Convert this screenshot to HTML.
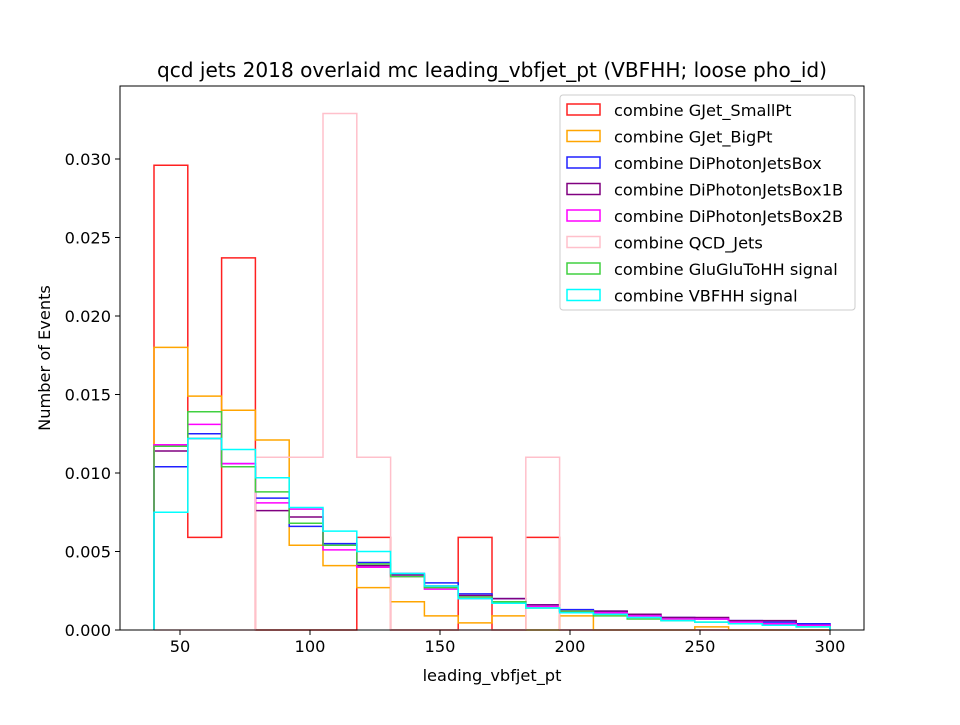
<!DOCTYPE html>
<html><head><meta charset="utf-8"><style>
body{margin:0;background:#fff}
svg text{font-family:"DejaVu Sans","Liberation Sans",sans-serif;fill:#000}
</style></head><body>
<svg id="chart" width="960" height="720" xmlns="http://www.w3.org/2000/svg">
<rect width="960" height="720" fill="#fff"/>
<text x="492" y="77" font-size="20.1" text-anchor="middle">qcd jets 2018 overlaid mc leading_vbfjet_pt (VBFHH; loose pho_id)</text>
<g id="plot"></g>
<rect x="120" y="86" width="744" height="544" fill="none" stroke="#000" stroke-width="1"/>
<g id="axes"></g>
<text x="492" y="681" font-size="16.2" text-anchor="middle">leading_vbfjet_pt</text>
<text transform="translate(50,358) rotate(-90)" font-size="16.2" text-anchor="middle">Number of Events</text>
<g id="legend"></g>
</svg>
<script>
const binEdges=[40,53,66,79,92,105,118,131,144,157,170,183,196,209,222,235,248,261,274,287,300];
const seriesNames=["combine GJet_SmallPt","combine GJet_BigPt","combine DiPhotonJetsBox","combine DiPhotonJetsBox1B","combine DiPhotonJetsBox2B","combine QCD_Jets","combine GluGluToHH signal","combine VBFHH signal"];
const seriesColors=["#ff2020","orange","#2020ff","purple","magenta","pink","#40d040","cyan"];
const gjetSmall=[0.0296,0.0059,0.0237,0,0,0,0.0059,0,0,0.0059,0,0.0059,0,0,0,0,0,0,0,0];
const gjetBig=[0.0180,0.0149,0.0140,0.0121,0.0054,0.0041,0.0027,0.0018,0.0009,0.00045,0.0009,0,0.0009,0,0,0,0.0002,0,0,0];
const diphoBox=[0.0104,0.0125,0.0106,0.0084,0.0066,0.0055,0.0043,0.0036,0.0030,0.0023,0.0020,0.0016,0.0013,0.0012,0.0009,0.0008,0.0007,0.0006,0.0005,0.0004];
const diphoBox1B=[0.0114,0.0122,0.0104,0.0076,0.0072,0.0054,0.0041,0.0035,0.0028,0.0022,0.0020,0.0016,0.0012,0.0012,0.0010,0.0008,0.0008,0.0006,0.0006,0.0003];
const diphoBox2B=[0.0118,0.0131,0.0106,0.0081,0.0077,0.0051,0.0040,0.0034,0.0026,0.0020,0.0018,0.0015,0.0012,0.0011,0.0009,0.0007,0.0007,0.0005,0.0004,0.0003];
const qcdJets=[0,0,0,0.0110,0.0110,0.0329,0.0110,0,0,0,0,0.0110,0,0,0,0,0,0,0,0];
const ggHH=[0.0117,0.0139,0.0104,0.0088,0.0068,0.0054,0.0042,0.0034,0.0027,0.0021,0.0018,0.0014,0.0012,0.0009,0.0007,0.0006,0.0005,0.0004,0.0003,0.0002];
const vbfHH=[0.0075,0.0122,0.0115,0.0097,0.0078,0.0063,0.0050,0.0036,0.0028,0.0020,0.0017,0.0014,0.0011,0.0010,0.0008,0.0006,0.0005,0.0004,0.0003,0.0002];
const xTicks=[50,100,150,200,250,300];
const yTicks=[0,0.005,0.010,0.015,0.020,0.025,0.030];
const yTickLabels=["0.000","0.005","0.010","0.015","0.020","0.025","0.030"];
const allSeries=[gjetSmall,gjetBig,diphoBox,diphoBox1B,diphoBox2B,qcdJets,ggHH,vbfHH];
const NS="http://www.w3.org/2000/svg";
const xs=v=>154+(v-40)*2.6;
const ys=v=>630-v*15700;
const plot=document.getElementById('plot');
allSeries.forEach((vals,si)=>{
  let d="M"+xs(binEdges[0])+","+ys(0);
  vals.forEach((v,i)=>{d+=" L"+xs(binEdges[i])+","+ys(v)+" L"+xs(binEdges[i+1])+","+ys(v);});
  d+=" L"+xs(binEdges[binEdges.length-1])+","+ys(0);
  const p=document.createElementNS(NS,'path');
  p.setAttribute('d',d);p.setAttribute('fill','none');p.setAttribute('stroke',seriesColors[si]);p.setAttribute('stroke-width','1.5');
  
  
  plot.appendChild(p);
});
const axes=document.getElementById('axes');
xTicks.forEach(t=>{
  const l=document.createElementNS(NS,'line');
  l.setAttribute('x1',xs(t));l.setAttribute('x2',xs(t));l.setAttribute('y1',630);l.setAttribute('y2',635);l.setAttribute('stroke','#000');
  
  
  axes.appendChild(l);
  const tx=document.createElementNS(NS,'text');
  tx.setAttribute('x',xs(t));tx.setAttribute('y',652);tx.setAttribute('font-size','16.2');tx.setAttribute('text-anchor','middle');tx.textContent=t;
  
  
  axes.appendChild(tx);
});
yTicks.forEach((t,i)=>{
  const l=document.createElementNS(NS,'line');
  l.setAttribute('x1',115);l.setAttribute('x2',120);l.setAttribute('y1',ys(t));l.setAttribute('y2',ys(t));l.setAttribute('stroke','#000');
  
  
  axes.appendChild(l);
  const tx=document.createElementNS(NS,'text');
  tx.setAttribute('x',111);tx.setAttribute('y',ys(t)+6);tx.setAttribute('font-size','16.2');tx.setAttribute('text-anchor','end');tx.textContent=yTickLabels[i];
  
  
  axes.appendChild(tx);
});
const lg=document.getElementById('legend');
const box=document.createElementNS(NS,'rect');
box.setAttribute('x',560);box.setAttribute('y',95);box.setAttribute('width',295);box.setAttribute('height',215);box.setAttribute('rx',3);
box.setAttribute('fill','#fff');box.setAttribute('fill-opacity','0.8');box.setAttribute('stroke','#ccc');


lg.appendChild(box);
seriesNames.forEach((n,i)=>{
  const y=110+i*26.5;
  const r=document.createElementNS(NS,'rect');
  r.setAttribute('x',567);r.setAttribute('y',y-6);r.setAttribute('width',33);r.setAttribute('height',11);
  r.setAttribute('fill','none');r.setAttribute('stroke',seriesColors[i]);r.setAttribute('stroke-width','1.5');
  
  
  lg.appendChild(r);
  const t=document.createElementNS(NS,'text');
  t.setAttribute('x',614);t.setAttribute('y',y+6);t.setAttribute('font-size','16.2');t.textContent=n;
  
  
  lg.appendChild(t);
});
</script>
</body></html>
